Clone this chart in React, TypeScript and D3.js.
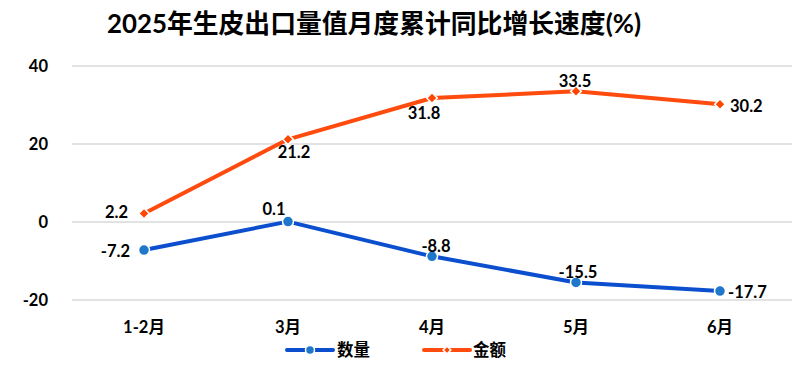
import React from "react";
import * as d3 from "d3";

const categories = ["1-2月", "3月", "4月", "5月", "6月"];
const quantity = [-7.2, 0.1, -8.8, -15.5, -17.7];
const amount = [2.2, 21.2, 31.8, 33.5, 30.2];
const yTicks = [-20, 0, 20, 40];
const seriesNames = ["数量", "金额"];
const title = "2025年生皮出口量值月度累计同比增长速度(%)";

// label placement: [dx, dy(baseline), anchor]
const qLabelPos: [number, number, string][] = [
  [-14, 7, "end"],
  [-14, -7, "middle"],
  [4, -4.5, "middle"],
  [2, -4.5, "middle"],
  [8, 6.5, "start"],
];
const aLabelPos: [number, number, string][] = [
  [-16, 5, "end"],
  [6, 19, "middle"],
  [-8, 21, "middle"],
  [-1, -4.5, "middle"],
  [10, 8, "start"],
];

const W = 800;
const H = 366;
const FONT = "Lato, 'Noto Sans CJK SC', sans-serif";

export default function App() {
  const x = d3.scaleBand<string>().domain(categories).range([72, 792]).padding(0);
  const y = d3.scaleLinear().domain([-20, 40]).range([300, 66]);
  const cx = (c: string) => (x(c) as number) + x.bandwidth() / 2;
  const line = d3
    .line<number>()
    .x((_, i) => cx(categories[i]))
    .y((d) => y(d));
  const diamond = d3.symbol().type(d3.symbolSquare).size(56);
  const diamondSmall = d3.symbol().type(d3.symbolSquare).size(30);

  const blueLine = "#0B4FCE";
  const blueMarker = "#1F77C9";
  const orangeLine = "#FF4B0E";
  const orangeMarker = "#FF4500";

  return (
    <svg
      width={W}
      height={H}
      style={{ position: "absolute", left: 0, top: 0, background: "#fff" }}
      fontFamily={FONT}
    >
      <rect width={W} height={H} fill="#fff" />
      <text
        x={107}
        y={33}
        fontSize={26}
        fontWeight="bold"
        fill="#000"
        textLength={534}
        lengthAdjust="spacingAndGlyphs"
      >
        {title}
      </text>
      {yTicks.map((t) => (
        <g key={t}>
          <line x1={72} x2={792} y1={y(t)} y2={y(t)} stroke="#D9D9D9" strokeWidth={1.5} />
          <text x={48} y={y(t) + 6} textAnchor="end" fontSize={16.5} fontWeight="bold" fill="#000">
            {t}
          </text>
        </g>
      ))}
      {categories.map((c) => (
        <text key={c} x={cx(c)} y={333} textAnchor="middle" fontSize={16.5} fontWeight="bold" fill="#000">
          {c}
        </text>
      ))}
      <path d={line(amount) as string} fill="none" stroke={orangeLine} strokeWidth={4} strokeLinejoin="round" />
      <path d={line(quantity) as string} fill="none" stroke={blueLine} strokeWidth={4} strokeLinejoin="round" />
      {amount.map((v, i) => (
        <path
          key={"a" + i}
          d={diamond() as string}
          transform={`translate(${cx(categories[i])},${y(v)}) rotate(45)`}
          fill={orangeMarker}
          stroke="#fff"
          strokeWidth={1.5}
        />
      ))}
      {quantity.map((v, i) => (
        <circle key={"q" + i} cx={cx(categories[i])} cy={y(v)} r={5.5} fill={blueMarker} stroke="#fff" strokeWidth={1.5} />
      ))}
      {amount.map((v, i) => (
        <text
          key={"al" + i}
          x={cx(categories[i]) + aLabelPos[i][0]}
          y={y(v) + aLabelPos[i][1]}
          textAnchor={aLabelPos[i][2] as any}
          fontSize={16.5}
          fontWeight="bold"
          fill="#000"
        >
          {v.toFixed(1)}
        </text>
      ))}
      {quantity.map((v, i) => (
        <text
          key={"ql" + i}
          x={cx(categories[i]) + qLabelPos[i][0]}
          y={y(v) + qLabelPos[i][1]}
          textAnchor={qLabelPos[i][2] as any}
          fontSize={16.5}
          fontWeight="bold"
          fill="#000"
        >
          {v.toFixed(1)}
        </text>
      ))}
      {/* legend */}
      <g>
        <line x1={287} x2={333} y1={350} y2={350} stroke={blueLine} strokeWidth={4} strokeLinecap="round" />
        <circle cx={310} cy={350} r={4.5} fill={blueMarker} stroke="#fff" strokeWidth={1.5} />
        <text x={337} y={356} fontSize={16.5} fontWeight="bold" fill="#000">
          {seriesNames[0]}
        </text>
        <line x1={424} x2={470} y1={350} y2={350} stroke={orangeLine} strokeWidth={4} strokeLinecap="round" />
        <path d={diamondSmall() as string} transform="translate(447,350) rotate(45)" fill={orangeMarker} stroke="#fff" strokeWidth={1.5} />
        <text x={473} y={356} fontSize={16.5} fontWeight="bold" fill="#000">
          {seriesNames[1]}
        </text>
      </g>
    </svg>
  );
}
